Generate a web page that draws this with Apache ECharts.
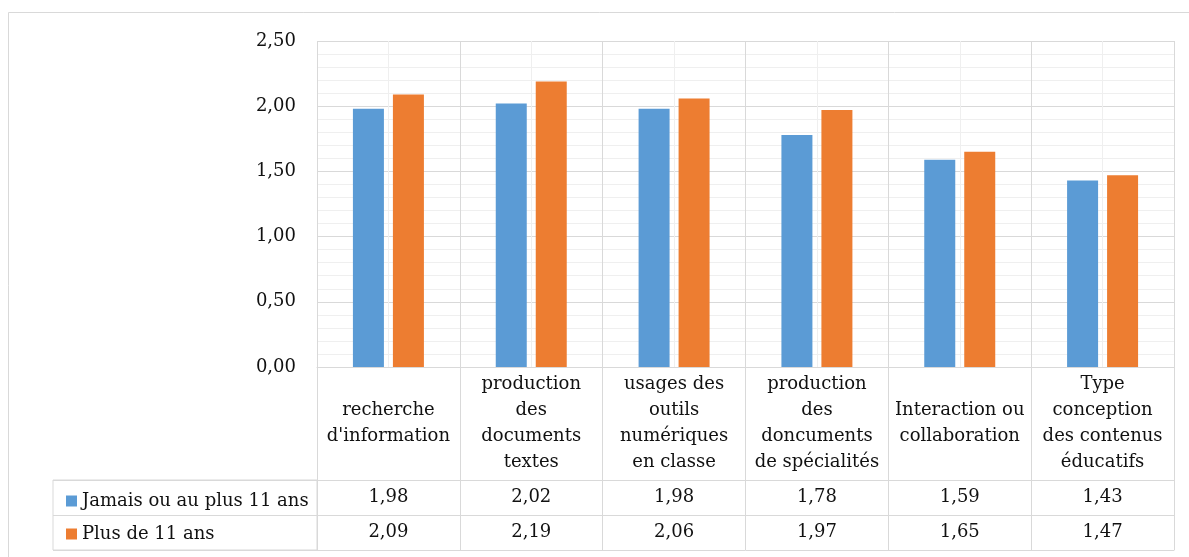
<!DOCTYPE html>
<html>
<head>
<meta charset="utf-8">
<script src="https://cdn.jsdelivr.net/npm/echarts@6/dist/echarts.min.js"></script>
<style>
html,body{margin:0;padding:0;background:#fff;}
#chart{width:1189px;height:557px;}
</style>
</head>
<body>
<div id="chart"></div>
<script>
const categories = [
  "recherche\nd'information",
  "production\ndes\ndocuments\ntextes",
  "usages des\noutils\nnumériques\nen classe",
  "production\ndes\ndoncuments\nde spécialités",
  "Interaction ou\ncollaboration",
  "Type\nconception\ndes contenus\néducatifs"
];
const seriesNames = ["Jamais ou au plus 11 ans", "Plus de 11 ans"];
const jamais = [1.98, 2.02, 1.98, 1.78, 1.59, 1.43];
const plusDe11 = [2.09, 2.19, 2.06, 1.97, 1.65, 1.47];
const yMin = 0, yMax = 2.5, yStep = 0.5;

const FONT = "DejaVu Serif";
const FS = 18;
const TXT = "#111";
const DARK = "#d9d9d9";
const LIGHT = "#efefef";
const fmt = v => v.toFixed(2).replace('.', ',');

const chart = echarts.init(document.getElementById('chart'), null, {renderer: 'canvas'});

const hidden = {show: false};
const rowAxis = (data, offset, showLabel) => ({
  type: 'category', gridIndex: 0, position: 'bottom', offset: offset,
  data: data,
  axisLine: {show: true, onZero: false, lineStyle: {color: DARK, width: 1}},
  axisTick: hidden, splitLine: hidden,
  axisLabel: {show: showLabel, interval: 0, margin: 17.5, verticalAlign: 'middle',
    fontFamily: FONT, fontSize: FS, color: TXT},
  silent: true
});

chart.setOption({
  animation: false,
  backgroundColor: '#fff',
  graphic: [{
    type: 'rect', shape: {x: 8.5, y: 12.5, width: 1300, height: 700},
    style: {fill: 'none', stroke: DARK, lineWidth: 1}, silent: true, z: -10
  }],
  legend: {
    data: seriesNames, orient: 'vertical', left: 61, top: 486,
    icon: 'rect', itemWidth: 11, itemHeight: 11, itemGap: 13,
    selectedMode: false,
    textStyle: {fontFamily: FONT, fontSize: FS, color: TXT, lineHeight: 20}
  },
  grid: [
    {left: 317, right: 15, top: 41, bottom: 190, containLabel: false, outerBoundsMode: 'none'},
    {left: 53, width: 264, top: 480, height: 70, containLabel: false, outerBoundsMode: 'none',
     show: true, borderColor: DARK, borderWidth: 1, backgroundColor: 'transparent'}
  ],
  xAxis: [
    {
      type: 'category', gridIndex: 0, position: 'bottom', data: categories,
      axisLine: {show: true, onZero: false, lineStyle: {color: DARK, width: 1}},
      axisTick: {show: true, length: 183, interval: 0, lineStyle: {color: DARK, width: 1}},
      splitLine: {show: true, interval: 0, lineStyle: {color: DARK, width: 1}},
      axisLabel: {interval: 0, margin: 56.5, verticalAlign: 'middle', align: 'center',
        fontFamily: FONT, fontSize: FS, color: TXT, lineHeight: 26},
      z: 2
    },
    rowAxis(jamais.map(fmt), 113, true),
    rowAxis(plusDe11.map(fmt), 148, true),
    rowAxis(categories.map(() => ''), 183, false),
    {
      type: 'value', gridIndex: 0, min: 0, max: categories.length * 2, interval: 1,
      show: true, position: 'top',
      axisLine: {show: false, onZero: false}, axisTick: hidden, axisLabel: hidden,
      splitLine: {show: true, lineStyle: {color: LIGHT, width: 1}}, z: 0
    },
    {type: 'value', gridIndex: 1, show: false}
  ],
  yAxis: [
    {
      type: 'value', gridIndex: 0, min: yMin, max: yMax, interval: yStep,
      axisLine: {show: false}, axisTick: hidden,
      axisLabel: {margin: 21, fontFamily: FONT, fontSize: FS, color: TXT, formatter: fmt},
      splitLine: {show: true, lineStyle: {color: DARK, width: 1}},
      minorTick: {show: false, splitNumber: 5},
      minorSplitLine: {show: true, lineStyle: {color: LIGHT, width: 1}}
    },
    {
      type: 'category', gridIndex: 1, data: seriesNames, inverse: true,
      axisLine: hidden, axisTick: hidden, axisLabel: hidden,
      splitLine: {show: true, interval: 0, lineStyle: {color: DARK, width: 1}}
    }
  ],
  series: [
    {name: seriesNames[0], type: 'bar', xAxisIndex: 0, yAxisIndex: 0, data: jamais,
     barWidth: 31, barGap: '29%', itemStyle: {color: '#5B9BD5'}, z: 3},
    {name: seriesNames[1], type: 'bar', xAxisIndex: 0, yAxisIndex: 0, data: plusDe11,
     barWidth: 31, barGap: '29%', itemStyle: {color: '#ED7D31'}, z: 3}
  ]
});
</script>
</body>
</html>
